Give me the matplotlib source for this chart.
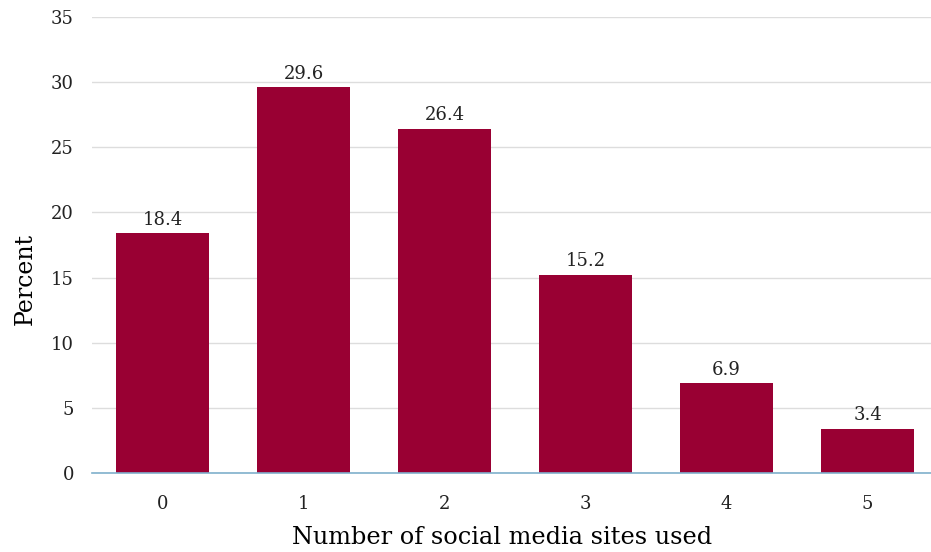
import matplotlib
matplotlib.use("Agg")
from matplotlib import pyplot as plt
import numpy as np

# datos
sites = ["0", "1", "2", "3", "4", "5"]
percent = [18.4, 29.6, 26.4, 15.2, 6.9, 3.4]
yticks = [0, 5, 10, 15, 20, 25, 30, 35]

plt.rcParams["font.family"] = ["DejaVu Serif"]

fig = plt.figure(figsize=(9.31, 5.52), dpi=100)
ax = fig.add_axes([92 / 931, 79 / 552, 1 - 92 / 931, (473 - 17) / 552])

x = np.arange(len(sites))
bars = ax.bar(x, percent, width=0.655, color="#990033", zorder=3)

# etiquetas de valor
for xi, v in zip(x, percent):
    ax.text(xi, v + 0.35, f"{v:.1f}", ha="center", va="bottom",
            fontsize=13, color="#222222", zorder=4)

ax.set_xlim(-0.5, 5.45)
ax.set_ylim(0, 35)
ax.set_yticks(yticks)
ax.set_xticks(x)
ax.set_xticklabels(sites)
ax.grid(axis="y", color="#dddddd", linewidth=1, zorder=0)
for s in ["top", "right", "left"]:
    ax.spines[s].set_visible(False)
ax.spines["bottom"].set_color("#7fb0cc")
ax.spines["bottom"].set_linewidth(1.2)
ax.spines["bottom"].set_zorder(5)
ax.tick_params(axis="both", length=0, labelsize=13, colors="#222222")
ax.tick_params(axis="x", pad=16)
ax.tick_params(axis="y", pad=13)

ax.set_xlabel("Number of social media sites used", fontsize=17.3)
ax.xaxis.set_label_coords(0.489, -0.117)
ax.set_ylabel("Percent", fontsize=17)
ax.yaxis.set_label_coords(-0.066, 0.4265)

plt.savefig("out.png", dpi=100)
